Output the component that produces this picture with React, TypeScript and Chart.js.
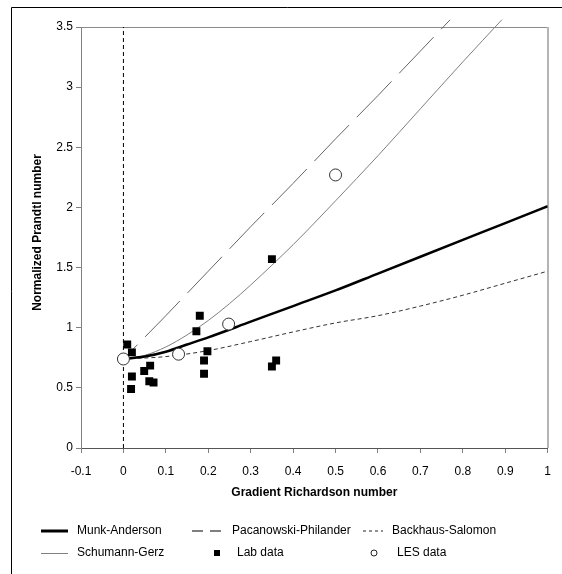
import React, { useEffect, useRef } from "react";
import { Chart, registerables } from "chart.js";

Chart.register(...registerables);

const FONT = '"Liberation Sans", Arial, Helvetica, sans-serif';

// Axis ranges
const riMin = -0.1;
const riMax = 1;
const riStep = 0.1;
const prMin = 0;
const prMax = 3.5;
const prStep = 0.5;

// Lab measurements (gradient Richardson number, normalized Prandtl number)
const labRi = [0.009, 0.02, 0.02, 0.018, 0.049, 0.063, 0.061, 0.071, 0.172, 0.18, 0.198, 0.19, 0.19, 0.35, 0.36, 0.35];
const labPr = [0.86, 0.795, 0.595, 0.49, 0.64, 0.685, 0.555, 0.545, 0.97, 1.1, 0.805, 0.727, 0.617, 0.677, 0.727, 1.57];

// LES results
const lesRi = [0, 0.13, 0.248, 0.5];
const lesPr = [0.74, 0.78, 1.03, 2.27];

// Munk-Anderson
const munkRi = [0, 0.05, 0.1, 0.15, 0.2, 0.3, 0.4, 0.5, 0.6, 0.7, 0.8, 0.9, 1.0];
const munkPr = [0.74, 0.76, 0.8, 0.86, 0.92, 1.05, 1.18, 1.31, 1.45, 1.59, 1.73, 1.87, 2.01];

// Pacanowski-Philander
const ppRi = [0, 0.1, 0.2, 0.3, 0.4, 0.5, 0.6, 0.7, 0.77];
const ppPr = [0.74, 1.1, 1.47, 1.84, 2.2, 2.57, 2.93, 3.3, 3.56];

// Schumann-Gerz
const sgRi = [0, 0.05, 0.1, 0.15, 0.2, 0.25, 0.3, 0.35, 0.4, 0.45, 0.5, 0.6, 0.7, 0.8, 0.892];
const sgPr = [0.74, 0.77, 0.84, 0.94, 1.06, 1.2, 1.355, 1.52, 1.69, 1.87, 2.055, 2.43, 2.82, 3.21, 3.56];

// Backhaus-Salomon
const bsRi = [0, 0.1, 0.2, 0.3, 0.4, 0.5, 0.6, 0.7, 0.8, 0.9, 1.0];
const bsPr = [0.74, 0.76, 0.81, 0.885, 0.965, 1.04, 1.1, 1.18, 1.27, 1.37, 1.47];

// Neutral reference line at Ri = 0
const zeroRi = [0, 0];
const zeroPr = [0, 3.5];

const xTitle = "Gradient Richardson number";
const yTitle = "Normalized Prandtl number";

const pairs = (xs: number[], ys: number[]) => xs.map((x, i) => ({ x, y: ys[i] }));

const decorPlugin = {
  id: "decor",
  beforeDraw(chart: any) {
    const { ctx, width, height } = chart;
    ctx.save();
    ctx.fillStyle = "#fff";
    ctx.fillRect(0, 0, width, height);
    // chart-area outline (extends past the window on the right and bottom)
    ctx.strokeStyle = "#000";
    ctx.lineWidth = 1;
    ctx.beginPath();
    ctx.moveTo(11.5, height + 2);
    ctx.lineTo(11.5, 7.5);
    ctx.lineTo(width + 2, 7.5);
    ctx.stroke();
    ctx.restore();
  },
  beforeDatasetsDraw(chart: any) {
    const { ctx, chartArea } = chart;
    const { left, right, top, bottom } = chartArea;
    ctx.save();
    // plot-area frame (top and right)
    ctx.strokeStyle = "#8a8a8a";
    ctx.lineWidth = 1;
    ctx.beginPath();
    ctx.moveTo(left, Math.round(top) + 0.5);
    ctx.lineTo(right, Math.round(top) + 0.5);
    ctx.stroke();
    ctx.strokeStyle = "#b4b4b4";
    ctx.lineWidth = 2;
    ctx.beginPath();
    ctx.moveTo(Math.round(right), top);
    ctx.lineTo(Math.round(right), bottom);
    ctx.stroke();
    ctx.restore();
  },
  afterDraw(chart: any) {
    const { ctx, chartArea } = chart;
    ctx.save();
    // axis titles
    ctx.fillStyle = "#000";
    ctx.font = `bold 12px ${FONT}`;
    ctx.textAlign = "center";
    ctx.textBaseline = "middle";
    ctx.fillText(xTitle, (chartArea.left + chartArea.right) / 2, 493);
    ctx.save();
    ctx.translate(37.5, 232.5);
    ctx.rotate(-Math.PI / 2);
    ctx.fillText(yTitle, 0, 0);
    ctx.restore();

    // legend
    const r1 = 531;
    const r2 = 553;
    ctx.font = `12px ${FONT}`;
    ctx.textAlign = "left";
    const seg = (x1: number, x2: number, y: number, color: string, w: number, dash: number[]) => {
      ctx.save();
      ctx.strokeStyle = color;
      ctx.lineWidth = w;
      ctx.setLineDash(dash);
      ctx.beginPath();
      ctx.moveTo(x1, y);
      ctx.lineTo(x2, y);
      ctx.stroke();
      ctx.restore();
    };
    seg(41, 68, r1, "#000", 3, []);
    ctx.fillText("Munk-Anderson", 77, r1);
    seg(192, 222, r1, "#555", 1.5, [11, 7]);
    ctx.fillText("Pacanowski-Philander", 232, r1);
    seg(363, 383, r1, "#222", 1, [3, 3]);
    ctx.fillText("Backhaus-Salomon", 392, r1);

    seg(41, 68, r2 + 0.5, "#808080", 1, []);
    ctx.fillText("Schumann-Gerz", 77, r2);
    ctx.fillStyle = "#000";
    ctx.fillRect(214, r2 - 3, 6, 6);
    ctx.fillText("Lab data", 237, r2);
    ctx.beginPath();
    ctx.arc(374, r2, 3, 0, Math.PI * 2);
    ctx.strokeStyle = "#222";
    ctx.lineWidth = 1;
    ctx.stroke();
    ctx.fillText("LES data", 397, r2);
    ctx.restore();
  },
};

export default function App() {
  const canvasRef = useRef<HTMLCanvasElement | null>(null);

  useEffect(() => {
    const canvas = canvasRef.current;
    if (!canvas) return;
    const fmt = (v: any) => String(Number(Number(v).toFixed(1)));
    const chart = new Chart(canvas, {
      type: "scatter",
      data: {
        datasets: [
          {
            label: "Lab data",
            data: pairs(labRi, labPr),
            pointStyle: "rect",
            pointRadius: 5.6,
            backgroundColor: "#000",
            borderColor: "#000",
            borderWidth: 0,
            showLine: false,
            order: 0,
          },
          {
            label: "LES data",
            data: pairs(lesRi, lesPr),
            pointStyle: "circle",
            pointRadius: 6,
            backgroundColor: "#fff",
            borderColor: "#333",
            borderWidth: 1,
            showLine: false,
            order: 0,
          },
          {
            label: "Munk-Anderson",
            data: pairs(munkRi, munkPr),
            showLine: true,
            borderColor: "#000",
            borderWidth: 2.5,
            pointRadius: 0,
            cubicInterpolationMode: "monotone",
            order: 1,
          },
          {
            label: "Pacanowski-Philander",
            data: pairs(ppRi, ppPr),
            showLine: true,
            borderColor: "#666",
            borderWidth: 1,
            borderDash: [50, 11],
            borderDashOffset: 30,
            pointRadius: 0,
            clip: { left: 0, top: 10, right: 0, bottom: 0 },
            order: 2,
          },
          {
            label: "Schumann-Gerz",
            data: pairs(sgRi, sgPr),
            showLine: true,
            borderColor: "#808080",
            borderWidth: 1,
            pointRadius: 0,
            cubicInterpolationMode: "monotone",
            clip: { left: 0, top: 10, right: 0, bottom: 0 },
            order: 2,
          },
          {
            label: "Backhaus-Salomon",
            data: pairs(bsRi, bsPr),
            showLine: true,
            borderColor: "#333",
            borderWidth: 1,
            borderDash: [4, 3],
            pointRadius: 0,
            cubicInterpolationMode: "monotone",
            order: 2,
          },
          {
            label: "Ri = 0",
            data: pairs(zeroRi, zeroPr),
            showLine: true,
            borderColor: "#000",
            borderWidth: 1,
            borderDash: [4, 3],
            pointRadius: 0,
            order: 3,
          },
        ],
      },
      options: {
        responsive: false,
        animation: false,
        events: [],
        layout: { padding: { left: 0, top: 27, right: 14, bottom: 66 } },
        plugins: {
          legend: { display: false },
          tooltip: { enabled: false },
          title: { display: false },
        },
        scales: {
          x: {
            type: "linear",
            min: riMin,
            max: riMax,
            ticks: {
              stepSize: riStep,
              callback: fmt,
              color: "#000",
              font: { family: FONT, size: 12 },
              padding: 11,
              maxRotation: 0,
              autoSkip: false,
            },
            grid: { drawOnChartArea: false, drawTicks: true, tickLength: 5, color: "#808080" },
            border: { color: "#555", width: 1 },
            afterFit: (s: any) => {
              s.height = 60;
            },
          },
          y: {
            type: "linear",
            min: prMin,
            max: prMax,
            ticks: {
              stepSize: prStep,
              callback: fmt,
              color: "#000",
              font: { family: FONT, size: 12 },
              padding: 3,
            },
            grid: { drawOnChartArea: false, drawTicks: true, tickLength: 5, color: "#808080" },
            border: { color: "#808080", width: 1 },
            afterFit: (s: any) => {
              s.width = 81;
            },
          },
        },
      },
      plugins: [decorPlugin],
    } as any);
    return () => chart.destroy();
  }, []);

  return (
    <div
      style={{
        position: "fixed",
        left: 0,
        top: 0,
        width: 562,
        height: 574,
        overflow: "hidden",
        background: "#fff",
      }}
    >
      <canvas
        ref={canvasRef}
        width={562}
        height={574}
        style={{ position: "absolute", left: 0, top: 0, width: 562, height: 574, display: "block" }}
      />
    </div>
  );
}
